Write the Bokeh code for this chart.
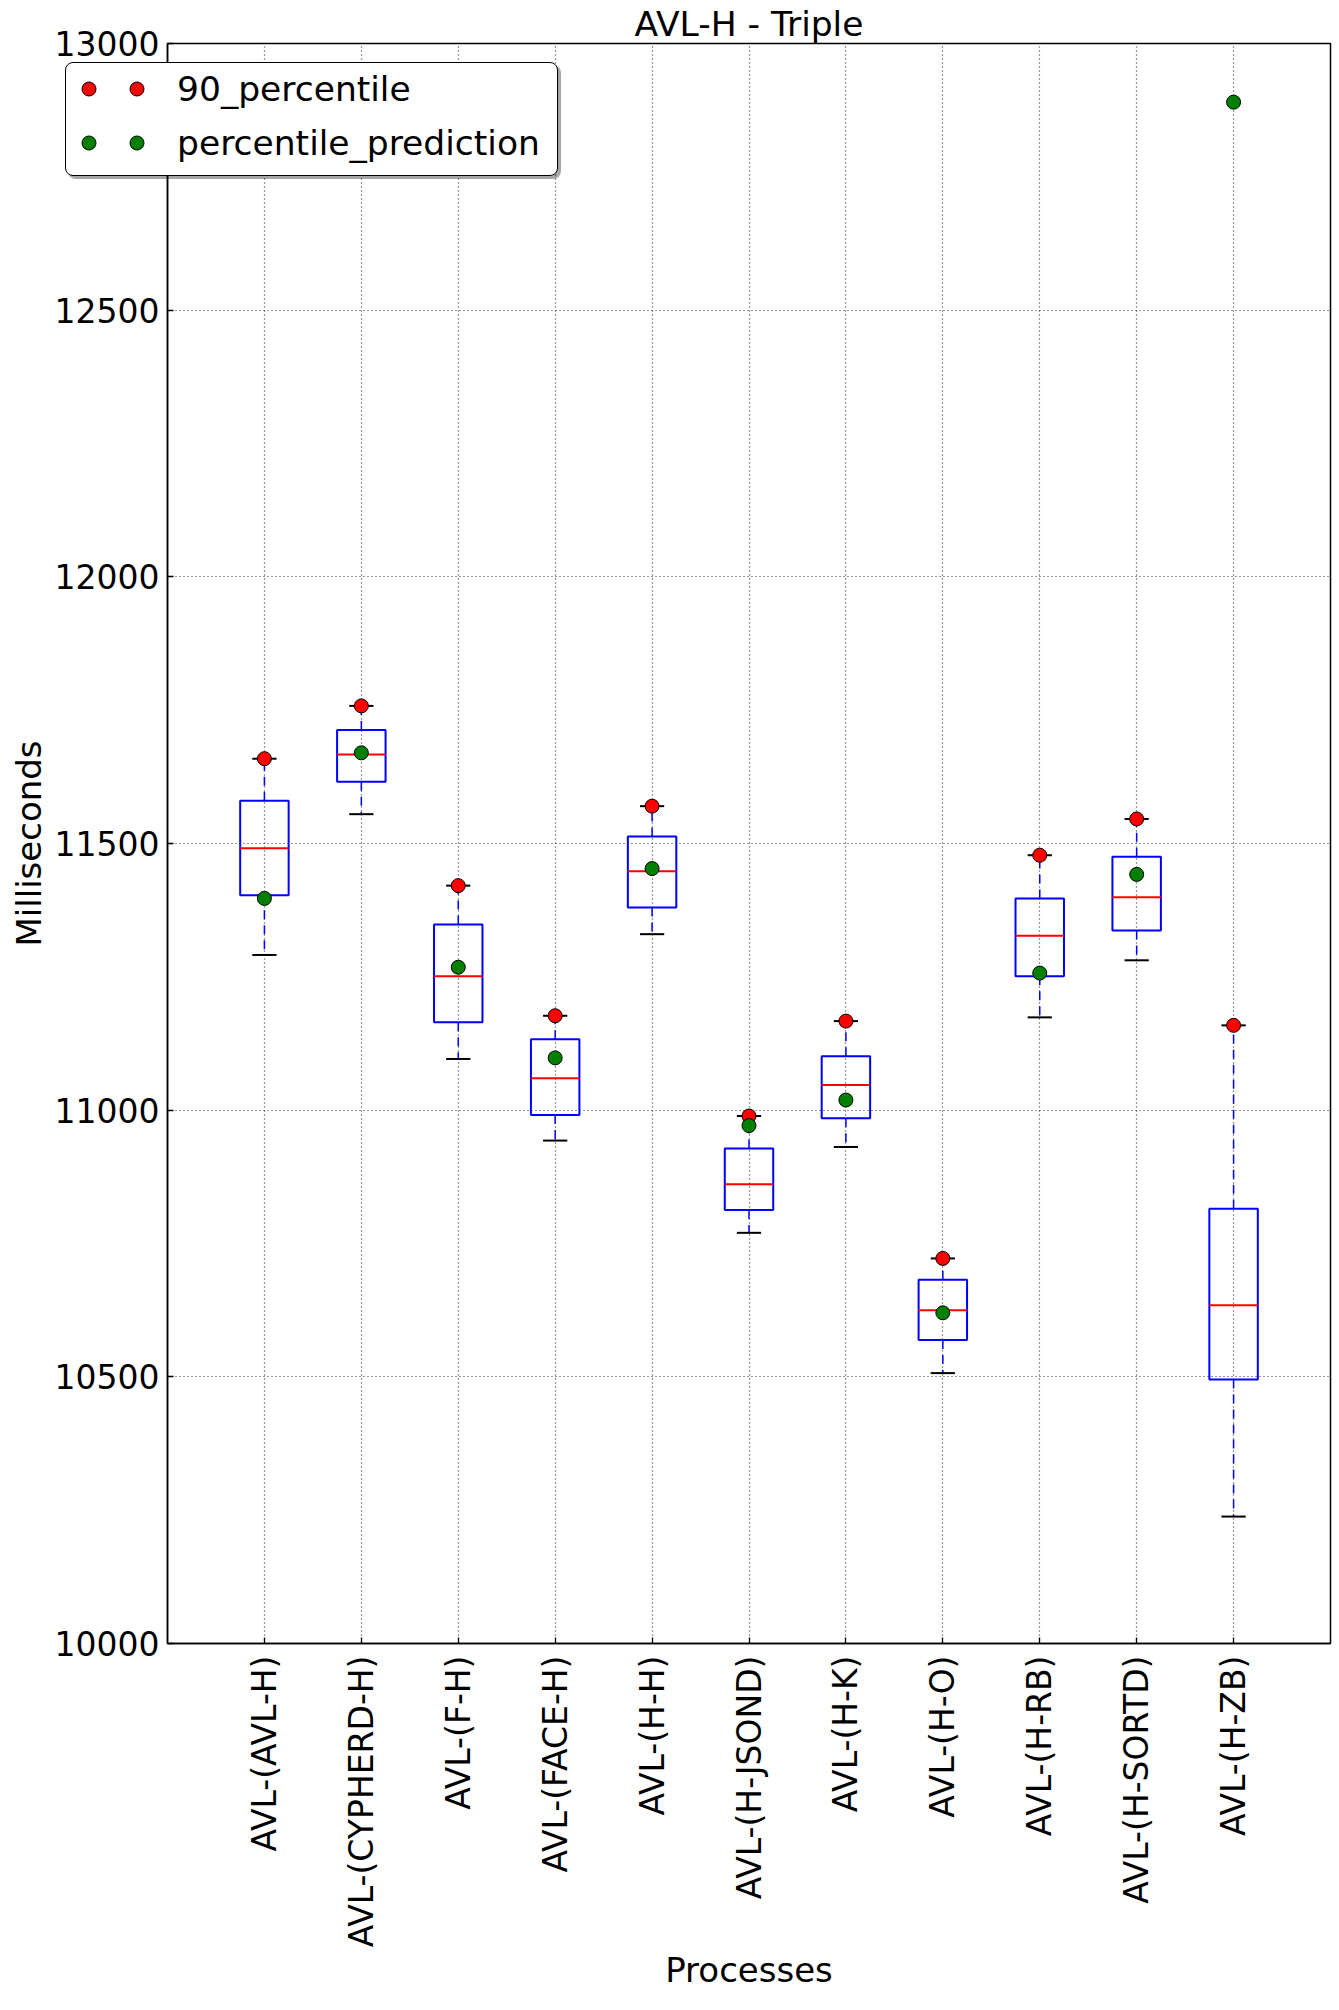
import math
from bokeh.plotting import figure
from bokeh.models import (ColumnDataSource, FixedTicker, Range1d, Label)
from bokeh.transform import dodge
from bokeh.embed import file_html
from bokeh.resources import INLINE

# ---------------- data ----------------
categories = ["AVL-(AVL-H)", "AVL-(CYPHERD-H)", "AVL-(F-H)", "AVL-(FACE-H)",
              "AVL-(H-H)", "AVL-(H-JSOND)", "AVL-(H-K)", "AVL-(H-O)",
              "AVL-(H-RB)", "AVL-(H-SORTD)", "AVL-(H-ZB)"]
whisker_low = [11291, 11555, 11096, 10943, 11330, 10770, 10931, 10507, 11174, 11281, 10238]
q1 = [11403, 11616, 11165, 10991, 11380, 10813, 10985, 10569, 11251, 11337, 10495]
median = [11491, 11667, 11251, 11060, 11448, 10861, 11047, 10625, 11327, 11399, 10634]
q3 = [11580, 11713, 11348, 11133, 11513, 10928, 11101, 10682, 11397, 11475, 10815]
whisker_high = [11659, 11758, 11421, 11177, 11570, 10989, 11167, 10722, 11478, 11546, 11159]
percentile_90 = [11659, 11758, 11421, 11177, 11570, 10989, 11167, 10722, 11478, 11546, 11159]
percentile_prediction = [11397, 11670, 11268, 11098, 11453, 10971, 11019, 10620, 11257, 11442, 12890]
y_ticks = [10000, 10500, 11000, 11500, 12000, 12500, 13000]
legend_labels = ["90_percentile", "percentile_prediction"]
positions = list(range(1, len(categories) + 1))

FONT = "DejaVu Sans"
TICK_FS = "33px"
LABEL_FS = "34px"
BIG_FS = "34.5px"
RED = "#ff0000"
GREEN = "#008000"
BLUE = "#0000ff"
legend_colors = [RED, GREEN]

src = ColumnDataSource(dict(x=positions, lo=whisker_low, q1=q1, med=median, q3=q3,
                            hi=whisker_high, p90=percentile_90, pred=percentile_prediction))

p = figure(width=1339, height=2010, output_backend="svg", toolbar_location=None,
           x_range=Range1d(0, len(categories) + 1), y_range=Range1d(10000, 13000),
           min_border_left=167, min_border_right=9, min_border_top=43,
           min_border_bottom=367)
p.background_fill_color = "white"
p.border_fill_color = "white"
p.outline_line_color = "black"
p.outline_line_width = 1.5

# title
p.title.text = "AVL-H - Triple"
p.title.align = "center"
p.title.text_font = FONT
p.title.text_font_size = BIG_FS
p.title.text_font_style = "normal"
p.title.text_color = "black"
p.title.standoff = 0

# axes
xa = p.xaxis[0]
ya = p.yaxis[0]
xa.ticker = FixedTicker(ticks=positions)
xa.major_label_overrides = {pos: name for pos, name in zip(positions, categories)}
xa.major_label_orientation = math.pi / 2
ya.ticker = FixedTicker(ticks=y_ticks)
for ax in (xa, ya):
    ax.major_label_text_font = FONT
    ax.major_label_text_font_size = TICK_FS
    ax.major_label_text_color = "black"
    ax.axis_label_text_font = FONT
    ax.axis_label_text_font_size = LABEL_FS
    ax.axis_label_text_font_style = "normal"
    ax.axis_label_text_color = "black"
    ax.axis_line_color = "black"
    ax.axis_line_width = 1.5
    ax.major_tick_in = 6
    ax.major_tick_out = 0
    ax.major_tick_line_color = "black"
    ax.major_tick_line_width = 1.3
    ax.minor_tick_line_color = None
xa.axis_label = "Processes"
xa.major_label_standoff = 12
xa.axis_label_standoff = 0
ya.axis_label = "Milliseconds"
ya.major_label_standoff = 8
ya.axis_label_standoff = 3

for g in (p.xgrid[0], p.ygrid[0]):
    g.grid_line_color = "black"
    g.grid_line_width = 1.2
    g.grid_line_dash = "1 3"
    g.grid_line_alpha = 0.8

# boxes
p.vbar(x="x", width=0.5, bottom="q1", top="q3", source=src,
       fill_color=None, line_color=BLUE, line_width=2)
p.segment(x0=dodge("x", -0.25), x1=dodge("x", 0.25), y0="med", y1="med",
          source=src, line_color=RED, line_width=2)
p.segment(x0="x", x1="x", y0="q3", y1="hi", source=src,
          line_color=BLUE, line_width=1.5, line_dash="9 6")
p.segment(x0="x", x1="x", y0="q1", y1="lo", source=src,
          line_color=BLUE, line_width=1.5, line_dash="9 6")
p.segment(x0=dodge("x", -0.125), x1=dodge("x", 0.125), y0="hi", y1="hi",
          source=src, line_color="black", line_width=2)
p.segment(x0=dodge("x", -0.125), x1=dodge("x", 0.125), y0="lo", y1="lo",
          source=src, line_color="black", line_width=2)

p.scatter("x", "p90", source=src, size=14, fill_color=RED,
          line_color="black", line_width=1)
p.scatter("x", "pred", source=src, size=14, fill_color=GREEN,
          line_color="black", line_width=1)

# ---------------- legend: a small overlay canvas (matplotlib-like, 2 points per entry) ----
LW, LH = 493, 114
leg = figure(width=LW, height=LH, output_backend="svg", toolbar_location=None,
             x_range=Range1d(0, LW), y_range=Range1d(LH, 0),
             x_axis_type=None, y_axis_type=None, min_border=0,
             styles={"position": "absolute", "left": "65px", "top": "62px",
                     "z-index": "10", "border": "1.5px solid black",
                     "border-radius": "8px", "overflow": "hidden",
                     "background-color": "white",
                     "box-shadow": "3px 3px 0px rgba(0,0,0,0.35)"})
leg.grid.visible = False
leg.outline_line_color = None
leg.background_fill_alpha = 0
leg.border_fill_alpha = 0
row_centers = [25.5, 79.5]
swatch_x = [22.5, 70.5]
for cy, col in zip(row_centers, legend_colors):
    leg.scatter(x=swatch_x, y=[cy, cy], size=14, fill_color=col,
                line_color="black", line_width=1)
for txt, cy in zip(legend_labels, row_centers):
    leg.add_layout(Label(x=110.5, y=cy, text=txt, text_font=FONT,
                         text_font_size=BIG_FS, text_color="black",
                         text_align="left", text_baseline="alphabetic"))

open("out.html", "w").write(file_html([p, leg], INLINE))
